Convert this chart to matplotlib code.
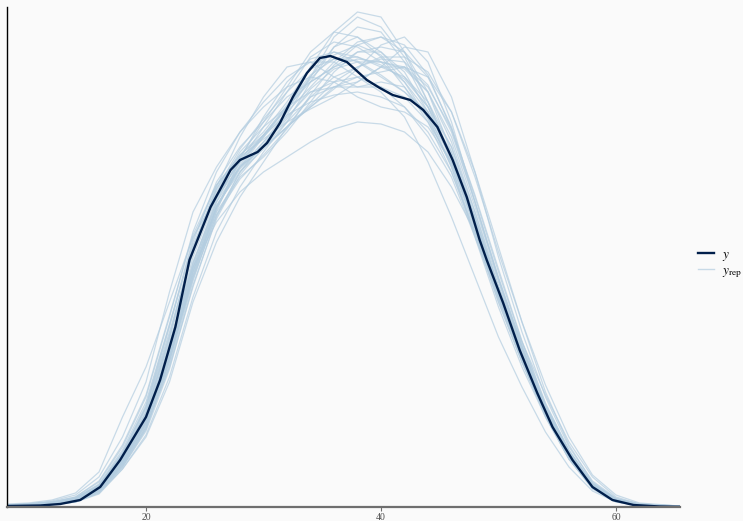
import matplotlib
matplotlib.use("Agg")
import matplotlib.pyplot as plt
from matplotlib.lines import Line2D

# x grid (shared by every replicated density curve) and tick labels
x_grid = [8.2, 10, 12, 14, 16, 18, 20, 22, 24, 26, 28, 30, 32, 34, 36, 38,
          40, 42, 44, 46, 48, 50, 52, 54, 56, 58, 60, 62, 65.4]
x_ticks = [20, 40, 60]

# observed density (relative units, the y axis carries no scale)
y_x = [8.2, 11.0, 12.7, 14.4, 16.1, 17.8, 20.0, 21.2, 22.5, 23.7, 25.5, 27.2,
       28.0, 29.5, 30.3, 31.4, 32.5, 33.7, 34.8, 35.7, 37.1, 38.8, 39.9, 41.0,
       42.5, 43.6, 44.8, 46.1, 47.3, 48.4, 49.0, 50.4, 51.8, 53.3, 54.6, 56.3,
       58.0, 59.7, 61.5, 63.7, 65.4]
y_dens = [1, 1.5, 3, 7, 20, 47, 90, 127, 180, 247, 300, 337,
          347, 355, 364, 384, 410, 434, 449, 451, 445, 427, 419, 412,
          407, 397, 380, 347, 310, 267, 247, 204, 157, 114, 80, 47,
          20, 7, 2, 0.5, 0.2]

# replicated densities (same relative units, on x_grid)
yrep1 = [1, 2, 3, 7, 18, 45, 85, 150, 230, 300, 340, 365, 395, 440, 475, 495, 490, 455, 405, 350, 280, 210, 150, 95, 55, 22, 7, 2, 0.5]
yrep2 = [2, 3, 5, 9, 22, 52, 95, 165, 240, 285, 315, 335, 350, 365, 378, 385, 383, 375, 355, 320, 275, 220, 165, 112, 65, 30, 10, 3, 1]
yrep3 = [2, 3, 6, 12, 30, 70, 125, 215, 295, 340, 375, 405, 430, 445, 445, 430, 415, 390, 345, 290, 230, 170, 120, 75, 40, 16, 5, 1.5, 0.5]
yrep4 = [1, 1.5, 2.5, 5, 13, 38, 70, 125, 205, 265, 310, 345, 380, 410, 430, 440, 450, 450, 435, 395, 330, 255, 185, 122, 70, 32, 12, 4, 1]
yrep5 = [1.5, 2, 4, 8, 20, 50, 95, 170, 260, 320, 370, 410, 440, 445, 430, 420, 425, 420, 390, 340, 275, 205, 145, 92, 50, 20, 6, 2, 0.5]
yrep6 = [1, 2, 3.5, 7, 19, 48, 90, 160, 250, 310, 345, 370, 395, 420, 445, 465, 470, 455, 415, 355, 285, 215, 150, 95, 52, 21, 6, 2, 0.5]
yrep7 = [2, 2.5, 4, 8, 20, 52, 100, 180, 265, 325, 360, 385, 410, 425, 440, 455, 455, 435, 395, 340, 270, 200, 140, 90, 48, 19, 6, 2, 0.5]
yrep8 = [1, 1.5, 3, 6, 16, 42, 80, 140, 220, 290, 335, 365, 390, 415, 425, 430, 435, 440, 430, 395, 335, 260, 185, 115, 62, 25, 8, 2, 1]
yrep9 = [3, 4, 7, 14, 35, 90, 140, 205, 270, 310, 340, 360, 380, 400, 420, 430, 420, 400, 370, 330, 270, 210, 150, 95, 52, 20, 6, 2, 0.5]
yrep10 = [1, 1.5, 2.5, 5, 15, 40, 78, 145, 235, 300, 345, 380, 415, 450, 465, 460, 445, 425, 395, 350, 285, 215, 150, 92, 48, 18, 5, 1.5, 0.3]
yrep11 = [1.5, 2, 3.5, 7, 18, 47, 88, 155, 240, 300, 340, 370, 400, 430, 460, 480, 475, 445, 400, 345, 278, 208, 145, 90, 48, 19, 6, 2, 0.5]
yrep12 = [2, 3, 5, 10, 25, 60, 110, 190, 275, 335, 375, 400, 420, 430, 425, 410, 400, 395, 380, 345, 290, 220, 155, 98, 53, 22, 7, 2, 1]
yrep13 = [1, 1.5, 3, 6, 17, 44, 84, 150, 235, 295, 330, 350, 375, 405, 435, 455, 460, 455, 430, 380, 310, 235, 165, 103, 57, 24, 8, 3, 1]
yrep14 = [1.5, 2, 3, 6, 17, 45, 86, 152, 238, 305, 350, 385, 420, 455, 475, 470, 450, 420, 385, 335, 272, 205, 145, 92, 50, 20, 6, 2, 0.5]
yrep15 = [1, 1.5, 2.5, 5, 14, 38, 72, 130, 210, 275, 320, 355, 385, 410, 420, 425, 440, 460, 455, 410, 335, 250, 175, 110, 60, 26, 9, 3, 1]
yrep16 = [2, 2.5, 4.5, 9, 22, 55, 100, 175, 255, 315, 355, 380, 400, 415, 420, 420, 420, 410, 385, 345, 285, 220, 158, 100, 56, 23, 7, 2, 0.8]
yrep17 = [1.5, 2, 3.5, 7, 19, 49, 92, 162, 245, 305, 340, 360, 385, 425, 460, 470, 455, 430, 400, 360, 295, 225, 160, 100, 55, 22, 7, 2, 0.6]
yrep18 = [1, 1.5, 3, 6, 16, 43, 82, 148, 232, 298, 342, 372, 400, 425, 440, 448, 445, 438, 415, 370, 300, 228, 160, 100, 53, 21, 6, 2, 0.5]
yrep19 = [2, 2.5, 4, 8, 21, 53, 98, 172, 258, 318, 352, 372, 392, 405, 412, 415, 410, 400, 375, 335, 275, 210, 150, 96, 52, 21, 7, 2, 0.7]
yrep20 = [1, 1.5, 3, 6, 16, 42, 80, 146, 228, 292, 335, 362, 392, 430, 470, 490, 480, 450, 405, 350, 280, 212, 148, 93, 50, 20, 6, 2, 0.5]
yrep21 = [1.5, 2, 4, 8, 21, 54, 102, 182, 268, 322, 352, 375, 405, 440, 455, 450, 440, 430, 405, 360, 290, 215, 148, 92, 48, 19, 6, 2, 0.5]
yrep22 = [1, 1.5, 2.5, 5, 14, 40, 76, 138, 222, 288, 332, 360, 380, 400, 418, 438, 462, 470, 445, 385, 305, 228, 160, 100, 55, 23, 8, 2.5, 0.8]
yrep23 = [2, 3, 5, 10, 26, 62, 112, 192, 272, 322, 350, 368, 385, 398, 410, 425, 440, 440, 415, 365, 295, 220, 152, 95, 50, 20, 6, 2, 0.5]
yrep24 = [1, 1.5, 3, 6, 16, 41, 78, 142, 226, 296, 348, 390, 425, 448, 455, 445, 430, 415, 395, 355, 290, 220, 155, 98, 54, 23, 8, 2.5, 0.8]
yrep25 = [1.5, 2, 3.5, 7, 18, 46, 87, 156, 242, 308, 348, 372, 398, 428, 452, 462, 452, 425, 388, 342, 282, 215, 152, 97, 54, 22, 7, 2, 0.6]
yrep26 = [1, 2, 3.5, 7, 18, 47, 89, 158, 244, 302, 335, 358, 380, 402, 425, 440, 448, 445, 422, 375, 305, 230, 162, 102, 56, 23, 7, 2, 0.6]
yrep27 = [2, 2.5, 4.5, 9, 23, 57, 105, 183, 262, 312, 345, 372, 402, 432, 448, 446, 432, 415, 390, 350, 288, 218, 152, 95, 51, 20, 6, 2, 0.5]
yrep28 = [1, 1.5, 3, 6, 17, 44, 83, 148, 230, 292, 328, 352, 378, 412, 442, 462, 470, 462, 432, 378, 305, 228, 158, 98, 52, 20, 6, 2, 0.5]
yrep29 = [1.5, 2, 4, 8, 20, 50, 94, 168, 255, 318, 358, 388, 415, 438, 448, 450, 442, 428, 400, 352, 285, 214, 150, 94, 50, 20, 6, 2, 0.5]
yrep30 = [1, 1.5, 3, 6, 17, 45, 85, 152, 236, 300, 338, 362, 388, 418, 438, 445, 445, 440, 420, 378, 312, 238, 166, 104, 56, 22, 7, 2, 0.6]

yrep_all = [yrep1, yrep2, yrep3, yrep4, yrep5, yrep6, yrep7, yrep8, yrep9, yrep10,
            yrep11, yrep12, yrep13, yrep14, yrep15, yrep16, yrep17, yrep18, yrep19, yrep20,
            yrep21, yrep22, yrep23, yrep24, yrep25, yrep26, yrep27, yrep28, yrep29, yrep30]

plt.rcParams['font.family'] = ['Liberation Serif', 'DejaVu Serif']
plt.rcParams['mathtext.fontset'] = 'stix'

fig = plt.figure(figsize=(7.43, 5.21), dpi=100, facecolor='#fafafa')
ax = fig.add_axes([7 / 743, 14 / 521, 673 / 743, 500 / 521])
ax.set_facecolor('#fafafa')

for rep in yrep_all:
    ax.plot(x_grid, rep, color='#b3cde0', alpha=0.7, lw=0.9, solid_joinstyle='round')
ax.plot(y_x, y_dens, color='#011f4b', lw=1.7, solid_joinstyle='round')

ax.set_xlim(8.17, 65.45)
ax.set_ylim(0, 500)
ax.set_xticks(x_ticks)
ax.set_yticks([])
ax.tick_params(axis='x', length=3, width=0.8, color='#6e6e6e', labelcolor='#4d4d4d',
               labelsize=7, pad=1)
for side in ['top', 'right']:
    ax.spines[side].set_visible(False)
ax.spines['left'].set_color('black')
ax.spines['left'].set_linewidth(1.0)
ax.spines['bottom'].set_color('#6e6e6e')
ax.spines['bottom'].set_linewidth(1.6)

handles = [Line2D([], [], color='#011f4b', lw=1.7),
           Line2D([], [], color='#b3cde0', lw=1.0, alpha=0.7)]
fig.legend(handles, [r'$y$', r'$y_{\rm rep}$'], loc='center left',
           bbox_to_anchor=(698 / 743, 1 - 264 / 521), frameon=False, fontsize=9.5,
           handlelength=1.2, handletextpad=0.6, labelspacing=0.15,
           borderaxespad=0, borderpad=0)

fig.savefig('out.png', dpi=100, facecolor='#fafafa')
